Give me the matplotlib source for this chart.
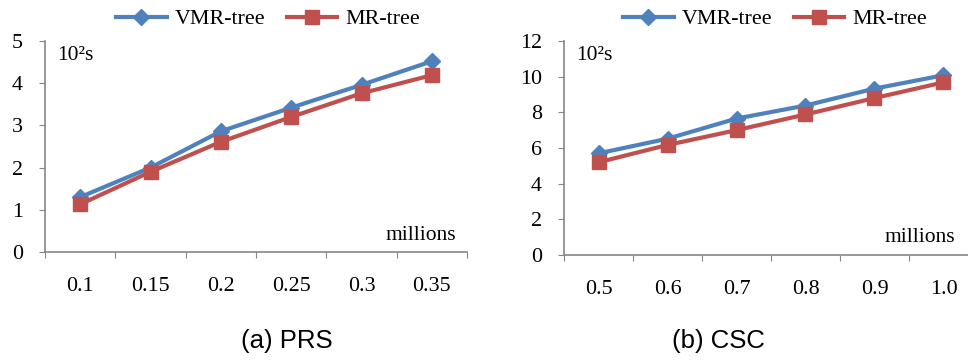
import numpy as np
import matplotlib
matplotlib.use('Agg')
import matplotlib.pyplot as plt

# Данные
prs_x = ['0.1', '0.15', '0.2', '0.25', '0.3', '0.35']
prs_vmr = [1.3, 2.0, 2.86, 3.42, 3.96, 4.52]
prs_mr = [1.13, 1.9, 2.61, 3.2, 3.76, 4.19]

csc_x = ['0.5', '0.6', '0.7', '0.8', '0.9', '1.0']
csc_vmr = [5.7, 6.52, 7.65, 8.38, 9.33, 10.08]
csc_mr = [5.2, 6.17, 7.0, 7.88, 8.8, 9.68]

BLUE = '#4F81BD'
RED = '#C0504D'
AXIS = '#868686'
SERIF = 'Liberation Serif'
FS = 15.8


def draw_panel(fig, rect, cats, vmr, mr, ymax, ystep, subtitle, sub_x, leg_x, mill_x):
    ax = fig.add_axes(rect)
    x = np.arange(len(cats))
    ax.plot(x, vmr, color=BLUE, lw=3.0, marker='D', ms=8.5, label='VMR-tree')
    ax.plot(x, mr, color=RED, lw=3.0, marker='s', ms=10, label='MR-tree')

    ax.set_xlim(-0.5, len(cats) - 0.5)
    ax.set_ylim(0, ymax)
    ax.set_yticks(np.arange(0, ymax + 0.1, ystep))

    # Деления между категориями, подписи по центру
    ax.set_xticks(np.arange(-0.5, len(cats), 1.0))
    ax.set_xticklabels([])
    ax.set_xticks(x, minor=True)
    ax.set_xticklabels(cats, minor=True, fontfamily=SERIF, fontsize=FS)
    ax.tick_params(axis='x', which='major', length=4, color=AXIS, direction='out')
    ax.tick_params(axis='x', which='minor', length=0, pad=18)
    ax.tick_params(axis='y', length=4, color=AXIS, direction='out', pad=12)
    for lab in ax.get_yticklabels():
        lab.set_fontfamily(SERIF)
        lab.set_fontsize(FS)

    for s in ['top', 'right']:
        ax.spines[s].set_visible(False)
    for s in ['left', 'bottom']:
        ax.spines[s].set_color(AXIS)
        ax.spines[s].set_linewidth(1.2)

    ax.text(0.03, 0.93, '10²s', transform=ax.transAxes, fontfamily=SERIF,
            fontsize=15.5, va='center', ha='left')
    ax.text(mill_x, 0.08, 'millions', transform=ax.transAxes,
            fontfamily=SERIF, fontsize=15.5, va='center', ha='right')

    fig.legend(handles=ax.get_lines(), loc='center', bbox_to_anchor=(leg_x, 0.947),
               ncol=2, frameon=False, prop={'family': SERIF, 'size': FS},
               handlelength=2.3, handletextpad=0.35, columnspacing=1.0)

    fig.text(sub_x, 0.052, subtitle, fontfamily='Liberation Sans', fontsize=18.5,
             ha='center', va='center')
    return ax


fig = plt.figure(figsize=(9.68, 3.6), dpi=100)

ax1 = draw_panel(fig, [45 / 968, 108 / 360, 422 / 968, 211 / 360],
                 prs_x, prs_vmr, prs_mr, 5, 1, '(a) PRS', 287 / 968, 268 / 968, 0.975)
ax2 = draw_panel(fig, [564 / 968, 105 / 360, 414 / 968, 214 / 360],
                 csc_x, csc_vmr, csc_mr, 12, 2, '(b) CSC', 718 / 968, 775 / 968, 0.945)

fig.savefig('out.png', dpi=100)
